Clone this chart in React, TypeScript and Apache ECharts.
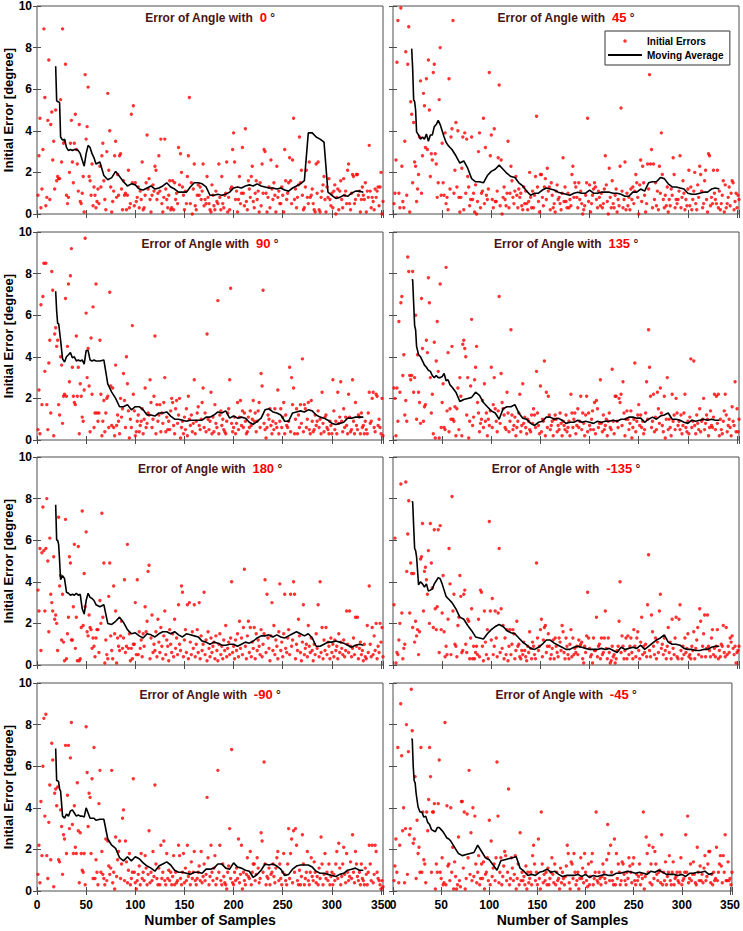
import React, { useEffect, useRef } from "react";
import * as echarts from "echarts";

const FONT = "'Liberation Sans', Arial, Helvetica, sans-serif";

const ANGLES = ["0", "45", "90", "135", "180", "-135", "-90", "-45"];
const X_TICKS = [0, 50, 100, 150, 200, 250, 300, 350];
const Y_TICKS = [0, 2, 4, 6, 8, 10];

// Initial errors, one value per sample (sample 1..352)
const ERR_0 = [
  0.9, 2.8, 4.6, 0.3, 1.2, 3.1, 8.9, 5.6, 0.4, 0.8, 4.5, 7.4, 0.7, 4.3, 4.9, 2.6, 3.5, 1.2, 5.0, 1.6,
  1.8, 1.7, 1.7, 5.5, 2.5, 8.9, 3.4, 3.5, 7.2, 0.9, 0.5, 0.8, 2.0, 3.4, 4.5, 2.5, 1.5, 3.4, 4.8, 3.1,
  2.4, 1.1, 4.3, 0.6, 0.5, 1.0, 1.8, 0.1, 6.7, 3.6, 4.2, 6.1, 1.8, 1.6, 0.9, 2.4, 0.4, 1.3, 0.9, 0.3,
  0.6, 1.2, 0.5, 2.3, 1.3, 2.8, 3.4, 1.6, 0.7, 0.2, 3.0, 5.8, 2.1, 4.0, 1.3, 0.1, 0.6, 1.1, 2.8, 3.5,
  0.8, 1.9, 0.9, 2.8, 2.9, 1.2, 0.2, 1.6, 0.9, 1.0, 0.2, 0.9, 2.1, 0.3, 0.5, 4.8, 1.5, 5.2, 0.4, 1.5,
  0.6, 0.8, 1.3, 0.3, 1.1, 0.7, 2.5, 0.2, 0.3, 0.9, 1.5, 3.8, 1.2, 1.7, 0.7, 0.1, 0.9, 1.4, 1.1, 2.3,
  2.1, 0.7, 1.0, 2.8, 1.1, 3.6, 0.5, 0.1, 0.8, 3.6, 1.2, 0.7, 0.3, 0.9, 1.6, 0.2, 0.3, 1.6, 0.2, 1.5,
  0.7, 1.0, 0.5, 3.2, 1.4, 2.9, 2.0, 1.3, 0.9, 0.2, 1.1, 0.5, 1.8, 2.8, 5.6, 0.5, 1.5, 0.0, 1.2, 2.4,
  0.4, 0.2, 0.9, 1.4, 0.9, 1.3, 0.7, 1.1, 2.4, 0.4, 0.7, 0.5, 1.8, 0.8, 0.5, 0.2, 0.1, 1.4, 0.9, 0.4,
  0.2, 1.1, 0.6, 0.5, 2.4, 0.8, 0.2, 1.8, 0.5, 0.3, 0.9, 1.0, 2.5, 0.1, 0.8, 0.2, 1.2, 1.3, 3.1, 3.9,
  2.5, 0.7, 1.1, 0.1, 0.7, 1.8, 0.5, 1.0, 3.2, 1.0, 0.4, 4.1, 0.6, 0.2, 1.6, 1.2, 0.8, 1.8, 2.3, 0.6,
  0.3, 1.0, 1.6, 0.7, 1.1, 0.1, 1.5, 0.4, 2.4, 1.0, 3.1, 3.0, 1.0, 0.1, 0.8, 1.3, 0.3, 2.6, 1.2, 0.7,
  1.5, 0.9, 0.1, 2.3, 0.8, 1.1, 0.5, 0.5, 1.3, 0.9, 0.1, 3.1, 1.6, 0.7, 1.0, 1.5, 2.7, 1.6, 0.5, 2.6,
  4.6, 0.7, 1.2, 0.3, 0.8, 1.4, 3.7, 1.5, 2.1, 0.9, 0.2, 0.3, 1.3, 2.1, 0.8, 0.5, 2.5, 0.8, 0.9, 1.2,
  0.5, 0.2, 0.1, 2.4, 1.0, 2.5, 0.2, 0.1, 0.8, 1.1, 1.4, 1.8, 0.7, 0.1, 1.3, 0.8, 1.7, 0.7, 0.4, 1.0,
  0.3, 1.1, 1.4, 0.0, 0.8, 1.2, 0.2, 1.1, 1.6, 0.7, 0.3, 1.7, 0.9, 1.1, 0.5, 2.1, 2.4, 0.5, 0.2, 1.0,
  1.9, 1.8, 0.5, 0.7, 1.9, 1.9, 0.9, 1.1, 0.1, 0.7, 1.3, 0.9, 0.7, 1.5, 0.1, 1.1, 0.8, 3.3, 1.1, 0.3,
  0.8, 0.6, 0.2, 1.2, 0.8, 1.1, 1.3, 0.4, 1.3, 2.0, 0.0, 0.6,
];
const ERR_45 = [
  0.5, 1.0, 2.6, 7.3, 9.3, 1.0, 0.3, 9.9, 2.3, 0.6, 0.3, 3.5, 7.8, 0.9, 7.2, 9.0, 0.1, 5.4, 4.8, 1.5,
  4.4, 2.5, 2.3, 0.6, 1.2, 1.9, 3.7, 6.4, 1.0, 2.8, 5.8, 5.2, 3.2, 6.5, 3.1, 7.4, 5.0, 1.8, 2.9, 2.6,
  6.8, 7.2, 2.9, 2.4, 0.8, 1.5, 5.5, 8.0, 0.9, 3.4, 1.5, 0.9, 3.9, 0.5, 0.8, 0.2, 6.5, 1.2, 3.7, 4.1,
  9.3, 1.0, 2.1, 4.4, 1.3, 4.0, 0.8, 0.1, 0.8, 2.2, 3.7, 0.2, 3.9, 1.0, 3.6, 1.8, 1.3, 0.4, 0.7, 3.7,
  0.7, 1.0, 0.1, 1.4, 0.0, 0.6, 3.0, 3.9, 0.3, 1.0, 1.1, 4.6, 0.5, 3.2, 0.9, 0.7, 1.2, 6.8, 2.8, 3.8,
  0.7, 0.3, 4.1, 0.6, 0.6, 1.1, 2.7, 6.2, 0.4, 2.6, 0.0, 0.8, 1.3, 0.7, 0.4, 1.0, 3.5, 0.3, 1.0, 2.3,
  1.6, 0.8, 0.5, 1.1, 1.8, 0.9, 0.3, 1.2, 0.8, 1.0, 0.4, 0.2, 1.3, 0.5, 1.1, 0.5, 0.2, 0.6, 2.0, 0.8,
  0.3, 1.1, 0.3, 0.9, 1.8, 4.7, 1.3, 0.6, 0.1, 1.9, 1.9, 0.8, 0.4, 1.3, 1.7, 0.7, 2.2, 1.1, 1.3, 0.2,
  1.5, 0.9, 0.3, 0.5, 0.1, 1.1, 1.4, 0.7, 0.8, 0.5, 0.2, 1.0, 2.7, 0.6, 1.3, 0.6, 0.3, 1.0, 0.3, 0.7,
  0.4, 1.9, 2.3, 0.8, 1.5, 1.3, 0.8, 0.3, 1.5, 0.7, 1.1, 0.5, 0.0, 0.2, 0.4, 0.9, 1.5, 4.6, 0.6, 1.4,
  0.1, 0.5, 0.9, 1.2, 1.5, 1.3, 0.7, 0.3, 1.1, 0.8, 0.4, 1.0, 0.3, 0.5, 1.2, 2.8, 1.4, 0.6, 0.0, 2.2,
  0.8, 0.3, 1.6, 0.5, 0.3, 0.9, 1.2, 0.1, 0.7, 0.4, 2.3, 5.1, 1.1, 0.3, 0.7, 2.5, 0.2, 1.0, 0.4, 0.8,
  0.2, 1.2, 0.7, 1.3, 0.5, 1.1, 1.9, 1.5, 0.8, 0.0, 1.4, 2.6, 0.6, 2.3, 1.5, 0.9, 0.1, 0.5, 2.4, 1.2,
  6.7, 2.4, 3.1, 0.3, 2.4, 0.7, 1.5, 0.4, 1.1, 0.2, 2.3, 1.0, 3.9, 1.9, 0.7, 0.3, 0.9, 0.4, 1.3, 0.1,
  0.7, 0.4, 1.2, 0.9, 2.7, 1.9, 0.3, 0.7, 0.5, 0.7, 1.1, 2.8, 0.3, 0.8, 1.6, 1.0, 0.2, 0.7, 0.4, 1.2,
  2.1, 0.4, 1.3, 0.2, 0.7, 1.1, 2.0, 0.5, 0.2, 1.4, 0.8, 2.3, 1.9, 1.1, 0.3, 0.5, 1.6, 2.1, 0.7, 0.1,
  2.9, 2.8, 0.4, 0.8, 0.5, 2.1, 1.0, 0.7, 0.5, 2.1, 0.3, 1.1, 0.2, 0.5, 0.9, 1.6, 0.1, 1.4, 0.3, 0.5,
  0.8, 1.3, 0.4, 1.0, 1.6, 1.5, 0.2, 0.6, 1.0, 0.3, 0.9, 0.7,
];
const ERR_90 = [
  0.5, 2.4, 0.3, 6.5, 1.7, 6.9, 8.5, 3.3, 8.5, 1.7, 0.5, 3.7, 4.8, 1.3, 8.1, 7.2, 0.2, 5.1, 5.4, 4.5,
  4.8, 1.7, 1.2, 4.0, 3.6, 0.8, 2.1, 2.2, 6.8, 2.1, 4.5, 7.5, 2.8, 7.9, 9.2, 3.5, 2.1, 1.8, 1.7, 5.0,
  2.1, 3.5, 0.3, 2.7, 2.1, 1.1, 0.9, 2.4, 9.7, 6.1, 3.0, 4.4, 2.6, 0.4, 4.9, 2.2, 6.4, 0.6, 1.3, 7.5,
  1.3, 0.9, 1.3, 4.8, 2.2, 0.2, 0.9, 1.9, 0.4, 1.3, 2.0, 2.1, 0.6, 7.1, 2.6, 0.7, 2.5, 0.6, 0.2, 3.6,
  0.7, 1.2, 0.9, 0.3, 2.0, 1.1, 1.5, 3.2, 1.9, 0.6, 4.0, 2.7, 1.4, 0.1, 1.0, 0.6, 5.5, 2.2, 1.4, 0.2,
  0.4, 0.9, 1.2, 0.4, 0.7, 0.9, 1.5, 0.3, 1.0, 2.5, 0.6, 0.8, 1.3, 1.2, 2.9, 1.8, 0.6, 1.0, 2.1, 5.0,
  0.3, 1.7, 0.9, 1.2, 1.7, 0.4, 1.3, 0.8, 1.8, 3.0, 0.4, 1.1, 0.5, 0.9, 0.5, 1.4, 2.0, 1.8, 0.7, 0.3,
  1.5, 1.9, 0.8, 1.2, 2.0, 0.1, 0.6, 0.9, 0.3, 1.1, 0.5, 1.5, 0.2, 2.1, 1.0, 0.7, 1.2, 0.4, 0.8, 2.9,
  0.3, 0.9, 1.3, 1.6, 0.7, 0.5, 1.0, 1.8, 2.5, 0.6, 1.3, 0.4, 5.1, 1.0, 0.5, 0.9, 2.3, 0.3, 1.1, 0.4,
  1.7, 0.8, 0.6, 6.7, 0.3, 1.2, 1.4, 0.7, 1.0, 0.5, 0.4, 0.3, 0.9, 1.3, 1.5, 2.9, 7.3, 0.8, 0.4, 0.6,
  1.1, 0.3, 0.8, 1.8, 0.5, 1.1, 1.9, 0.7, 1.4, 0.6, 1.3, 0.9, 0.3, 0.4, 1.1, 0.6, 1.4, 0.7, 1.0, 1.9,
  0.9, 1.3, 0.4, 0.9, 1.4, 1.8, 0.6, 3.2, 2.6, 7.2, 0.8, 0.5, 0.1, 0.6, 1.2, 1.0, 1.5, 0.7, 0.3, 0.9,
  0.5, 1.5, 0.8, 0.6, 2.4, 0.3, 0.9, 1.5, 0.6, 1.1, 1.8, 0.3, 1.2, 0.7, 0.6, 0.9, 3.5, 0.4, 3.0, 1.7,
  2.5, 0.3, 1.0, 1.5, 0.3, 1.2, 0.6, 1.7, 0.8, 3.9, 0.4, 1.7, 1.5, 0.6, 1.0, 1.8, 0.5, 0.3, 1.9, 0.9,
  0.4, 0.5, 1.2, 0.7, 0.9, 1.4, 0.6, 1.0, 0.3, 2.3, 0.8, 0.4, 1.1, 1.2, 0.6, 0.5, 0.3, 0.9, 0.7, 0.3,
  2.9, 1.4, 0.5, 0.9, 0.3, 2.3, 0.8, 1.1, 2.8, 0.9, 0.4, 1.5, 0.6, 1.1, 0.7, 0.3, 2.2, 1.1, 0.4, 0.5,
  2.9, 0.9, 0.3, 1.8, 0.7, 0.5, 1.2, 1.1, 0.3, 1.3, 0.6, 0.7, 0.3, 0.9, 0.5, 0.3, 1.3, 2.3, 0.8, 0.9,
  2.0, 2.3, 0.6, 0.4, 2.2, 2.1, 0.7, 1.0, 0.6, 0.3, 2.0, 0.2,
];
const ERR_135 = [
  2.5, 2.0, 0.2, 2.5, 0.9, 5.7, 2.3, 6.6, 6.9, 3.1, 4.1, 1.2, 1.9, 0.9, 8.8, 8.1, 3.1, 2.9, 3.1, 8.1,
  2.3, 3.0, 6.0, 1.0, 4.1, 2.3, 1.8, 0.8, 6.8, 4.4, 0.9, 1.6, 1.7, 4.8, 4.2, 7.8, 6.6, 3.0, 1.3, 2.2,
  0.3, 4.7, 0.1, 3.8, 5.7, 3.3, 0.1, 7.5, 0.6, 1.8, 2.7, 0.6, 0.5, 8.3, 1.4, 4.2, 0.4, 1.5, 1.0, 4.5,
  1.0, 0.9, 1.6, 0.2, 1.5, 2.5, 0.5, 3.0, 2.1, 0.2, 4.6, 4.8, 4.4, 4.0, 1.2, 3.0, 0.1, 0.9, 2.6, 5.8,
  0.7, 1.1, 2.9, 3.5, 4.5, 1.8, 1.3, 0.4, 0.8, 1.0, 1.9, 0.6, 2.7, 0.9, 1.3, 0.2, 1.0, 0.7, 1.4, 3.5,
  0.6, 1.7, 3.0, 1.5, 0.9, 0.4, 1.4, 6.9, 0.8, 3.2, 1.8, 1.5, 1.2, 0.6, 0.5, 2.3, 1.3, 0.4, 0.9, 5.3,
  1.2, 0.5, 0.7, 1.1, 0.2, 0.6, 0.9, 1.3, 2.2, 0.4, 0.7, 2.7, 0.8, 1.1, 0.6, 0.3, 1.0, 0.9, 0.5, 0.4,
  1.2, 0.8, 1.5, 1.2, 0.6, 3.3, 1.3, 0.7, 0.3, 2.6, 0.4, 1.0, 0.9, 3.8, 0.2, 2.3, 0.6, 2.1, 1.2, 0.5,
  0.7, 0.9, 0.2, 1.0, 1.2, 1.0, 0.4, 0.7, 0.5, 1.3, 0.8, 0.2, 0.9, 0.7, 0.5, 1.2, 0.4, 0.6, 0.9, 0.2,
  2.2, 1.3, 0.6, 1.0, 1.3, 0.3, 0.7, 1.5, 0.6, 0.9, 2.1, 0.5, 1.3, 0.8, 0.2, 1.2, 2.1, 0.4, 1.3, 0.7,
  0.5, 1.0, 1.4, 0.5, 1.8, 0.3, 1.9, 1.5, 0.6, 0.8, 2.9, 0.8, 0.4, 1.2, 0.5, 0.7, 1.0, 0.2, 0.9, 1.3,
  0.6, 0.5, 3.4, 0.9, 0.3, 2.1, 2.1, 0.9, 0.6, 2.0, 1.8, 2.2, 0.7, 2.8, 1.3, 0.2, 1.0, 1.4, 1.0, 0.5,
  0.8, 1.4, 0.1, 0.6, 1.0, 3.7, 0.4, 0.9, 1.2, 1.7, 0.7, 1.2, 0.6, 0.9, 0.3, 0.5, 1.3, 2.8, 1.0, 5.3,
  3.5, 2.1, 0.6, 0.9, 2.2, 0.4, 1.1, 0.5, 2.3, 1.5, 0.8, 2.5, 1.3, 0.7, 0.4, 2.1, 0.1, 1.0, 3.0, 0.5,
  1.0, 0.6, 0.2, 2.2, 0.9, 1.2, 0.5, 2.0, 1.3, 0.7, 0.9, 0.5, 1.2, 0.3, 0.7, 1.3, 2.2, 0.6, 0.4, 0.9,
  0.3, 1.1, 3.9, 0.6, 0.9, 3.8, 0.7, 0.3, 1.2, 0.8, 0.5, 1.5, 0.4, 0.9, 1.0, 2.0, 0.5, 0.8, 1.2, 1.0,
  0.2, 0.6, 1.4, 0.7, 0.6, 1.1, 2.2, 0.5, 2.1, 0.8, 2.2, 0.2, 1.0, 0.5, 0.3, 0.9, 1.4, 2.2, 1.2, 0.4,
  0.7, 1.0, 0.6, 0.2, 1.6, 0.9, 0.7, 2.8, 0.4, 1.5, 0.4, 1.0,
];
const ERR_180 = [
  3.6, 2.6, 5.6, 0.7, 5.4, 7.6, 5.5, 2.6, 5.6, 8.0, 5.0, 1.6, 6.1, 3.4, 3.0, 2.6, 5.2, 2.2, 2.4, 2.0,
  0.7, 7.1, 3.8, 4.3, 1.2, 3.4, 1.1, 0.2, 7.0, 0.3, 1.5, 2.3, 5.2, 4.9, 1.2, 1.2, 2.8, 5.8, 0.8, 2.3,
  0.2, 5.7, 0.2, 0.3, 1.8, 7.4, 1.9, 4.4, 2.8, 6.4, 1.6, 1.4, 2.4, 1.8, 1.7, 0.8, 1.3, 0.9, 0.4, 1.3,
  1.7, 1.7, 0.6, 3.1, 2.0, 7.3, 2.3, 4.9, 0.1, 1.2, 0.5, 0.3, 3.3, 4.9, 1.4, 0.7, 0.3, 3.8, 1.5, 2.6,
  0.1, 1.3, 0.9, 0.7, 1.4, 2.1, 0.8, 1.3, 4.1, 0.6, 0.9, 5.8, 0.8, 1.5, 0.2, 0.8, 0.3, 1.0, 1.0, 3.0,
  0.5, 4.1, 0.5, 1.6, 0.8, 1.2, 0.4, 1.5, 0.9, 2.8, 1.6, 2.1, 4.5, 4.8, 0.3, 1.3, 2.4, 0.6, 1.0, 0.7,
  1.6, 0.4, 2.2, 1.1, 0.6, 1.8, 0.9, 0.3, 1.4, 2.6, 0.5, 1.2, 0.9, 0.2, 1.7, 1.0, 0.6, 1.5, 0.4, 2.2,
  0.8, 1.3, 0.5, 2.9, 1.0, 0.7, 3.8, 3.5, 0.4, 1.2, 1.7, 0.6, 2.9, 0.3, 3.0, 1.1, 0.5, 1.6, 0.8, 2.9,
  0.4, 1.0, 1.7, 0.6, 3.0, 0.3, 1.4, 0.7, 1.0, 3.5, 0.5, 1.2, 0.2, 1.6, 0.8, 0.4, 1.3, 0.6, 0.9, 1.1,
  0.3, 1.4, 0.7, 0.2, 1.0, 1.5, 0.5, 0.9, 0.3, 1.2, 0.7, 1.9, 0.4, 0.8, 1.1, 0.5, 1.3, 4.0, 0.6, 0.9,
  0.3, 1.2, 0.7, 1.5, 0.4, 2.1, 0.8, 1.3, 0.5, 1.8, 4.6, 0.9, 0.3, 1.4, 2.1, 0.6, 1.8, 0.4, 1.1, 0.8,
  1.8, 0.3, 1.5, 0.7, 1.2, 0.9, 0.5, 1.7, 0.4, 1.0, 1.5, 4.1, 0.6, 3.4, 1.3, 0.8, 0.2, 1.4, 3.0, 0.7,
  1.9, 0.5, 1.2, 0.9, 0.3, 1.6, 3.9, 0.7, 1.1, 0.4, 1.5, 3.4, 0.8, 0.6, 1.3, 1.7, 0.5, 3.4, 0.9, 1.2,
  4.0, 3.4, 0.3, 1.0, 0.7, 2.2, 1.4, 0.6, 0.2, 1.1, 2.9, 0.5, 0.8, 1.0, 0.4, 1.9, 0.9, 0.6, 1.3, 0.7,
  0.2, 1.0, 0.5, 1.5, 0.8, 2.9, 0.4, 4.0, 0.6, 1.8, 0.3, 1.2, 0.7, 1.8, 0.5, 1.1, 0.9, 0.3, 1.3, 0.6,
  1.0, 0.4, 1.2, 0.7, 0.9, 0.3, 1.5, 0.6, 1.1, 0.8, 0.5, 1.2, 0.4, 0.7, 2.6, 1.0, 0.6, 2.6, 0.9, 0.4,
  0.8, 1.3, 0.5, 2.3, 0.9, 2.3, 0.3, 0.8, 1.1, 0.5, 0.7, 0.2, 1.0, 0.4, 0.3, 1.9, 0.6, 3.8, 1.0, 0.4,
  1.8, 0.5, 1.4, 0.7, 2.0, 0.3, 0.9, 0.6, 2.0, 1.1, 1.8, 0.4,
];
const ERR_M135 = [
  2.9, 6.1, 0.1, 0.6, 0.5, 1.2, 2.0, 8.7, 2.5, 0.3, 0.8, 1.0, 8.8, 4.5, 6.3, 7.9, 2.5, 4.9, 4.4, 1.8,
  4.4, 1.1, 2.1, 1.4, 1.7, 0.5, 1.6, 5.1, 5.2, 6.8, 2.6, 4.5, 4.7, 4.1, 3.4, 5.5, 2.0, 6.8, 4.9, 3.7,
  1.8, 6.5, 2.7, 1.7, 2.8, 6.5, 0.6, 6.7, 1.7, 2.5, 4.3, 1.6, 0.4, 0.9, 0.5, 2.2, 5.6, 3.9, 0.5, 8.1,
  2.6, 3.4, 1.0, 0.9, 0.4, 1.9, 2.3, 4.3, 3.3, 0.6, 0.7, 3.4, 3.6, 1.0, 0.6, 2.2, 2.1, 0.3, 1.3, 2.7,
  0.3, 0.9, 0.3, 0.6, 0.9, 0.5, 2.2, 0.4, 3.6, 3.5, 0.9, 0.2, 2.6, 1.1, 0.5, 1.7, 0.3, 6.9, 2.6, 1.2,
  3.2, 0.5, 0.9, 2.6, 1.3, 0.4, 2.5, 5.6, 0.6, 2.7, 0.8, 1.9, 0.3, 1.3, 0.5, 1.7, 0.2, 0.9, 1.7, 0.5,
  1.0, 1.7, 1.5, 0.3, 0.7, 2.1, 0.9, 1.0, 0.4, 0.3, 0.7, 0.5, 1.1, 0.7, 0.4, 0.2, 0.9, 0.6, 1.6, 0.8,
  0.3, 1.1, 0.9, 0.5, 0.3, 4.9, 1.3, 0.7, 0.9, 1.7, 2.2, 0.4, 1.2, 1.8, 1.9, 0.6, 0.9, 1.5, 0.9, 0.3,
  0.5, 0.8, 1.2, 0.3, 1.3, 0.9, 0.6, 0.4, 1.3, 1.1, 0.7, 1.9, 1.6, 0.6, 0.3, 1.3, 0.9, 0.5, 0.3, 1.0,
  1.7, 0.4, 1.3, 0.5, 0.8, 0.6, 0.9, 0.5, 1.2, 0.9, 1.0, 1.1, 0.3, 0.1, 0.9, 0.6, 1.4, 3.5, 1.3, 0.8,
  0.4, 0.5, 0.1, 1.3, 0.7, 0.7, 2.3, 0.4, 0.9, 1.0, 0.3, 1.3, 0.5, 0.6, 1.3, 2.6, 0.8, 0.3, 1.3, 0.6,
  0.1, 0.2, 0.9, 0.4, 0.5, 0.1, 0.3, 0.7, 0.9, 2.1, 4.0, 0.6, 1.4, 0.9, 0.3, 0.7, 1.3, 0.3, 1.4, 0.5,
  0.9, 1.3, 0.6, 0.3, 1.7, 0.9, 0.4, 1.3, 1.6, 0.7, 0.3, 1.1, 2.3, 0.5, 0.9, 0.6, 1.0, 0.4, 2.9, 5.3,
  0.7, 0.4, 2.4, 1.6, 0.9, 0.5, 1.3, 0.3, 1.1, 0.6, 2.6, 3.4, 0.8, 1.0, 0.5, 1.3, 0.7, 0.3, 0.9, 1.8,
  0.6, 1.1, 0.3, 2.2, 0.8, 0.5, 1.3, 2.3, 0.4, 0.3, 2.2, 2.9, 0.7, 0.3, 0.9, 0.5, 1.3, 0.6, 0.8, 1.5,
  0.4, 0.5, 0.3, 0.9, 0.7, 1.6, 0.3, 0.8, 1.2, 1.8, 0.5, 2.7, 2.1, 0.4, 0.9, 1.5, 2.4, 0.4, 0.8, 2.4,
  0.9, 0.7, 0.4, 1.3, 1.7, 0.5, 0.8, 0.4, 0.9, 1.7, 0.3, 0.7, 0.4, 1.0, 0.9, 1.9, 0.6, 0.4, 1.8, 0.5,
  0.9, 0.6, 1.3, 1.1, 1.4, 0.8, 0.5, 0.9, 0.1, 0.6, 0.7, 0.9,
];
const ERR_M90 = [
  0.8, 2.2, 0.4, 4.3, 1.7, 6.0, 8.3, 3.6, 8.5, 1.7, 0.6, 3.3, 5.1, 1.5, 7.1, 6.3, 0.2, 4.7, 4.9, 4.1,
  5.0, 1.5, 1.4, 3.9, 3.1, 0.8, 2.7, 2.5, 7.0, 1.8, 4.6, 7.0, 3.0, 6.4, 8.1, 3.2, 1.8, 4.1, 2.1, 1.8,
  5.2, 2.9, 0.4, 2.8, 1.8, 1.0, 0.9, 1.8, 0.3, 7.9, 5.7, 3.1, 4.7, 4.5, 1.8, 5.4, 0.6, 6.9, 0.6, 1.5,
  0.9, 0.3, 4.2, 5.8, 0.9, 1.9, 0.8, 0.6, 0.3, 2.5, 0.5, 2.4, 1.2, 0.8, 1.1, 5.8, 0.4, 0.9, 0.1, 2.6,
  0.7, 1.5, 1.9, 2.4, 0.6, 1.3, 3.5, 3.9, 0.5, 2.4, 1.4, 0.4, 1.0, 1.8, 0.3, 0.6, 0.9, 5.4, 0.9, 0.4,
  0.1, 0.5, 0.8, 1.2, 0.3, 1.8, 0.6, 0.9, 0.5, 1.7, 1.1, 0.3, 0.8, 2.9, 0.4, 0.9, 0.5, 1.9, 0.7, 5.1,
  1.3, 0.6, 0.3, 1.1, 0.3, 2.2, 0.6, 0.9, 2.4, 0.5, 0.3, 1.8, 0.6, 1.0, 0.5, 0.9, 0.3, 0.7, 1.7, 0.3,
  0.9, 0.4, 0.5, 2.2, 1.7, 0.6, 0.3, 0.9, 1.8, 0.4, 1.1, 0.5, 2.2, 0.7, 0.9, 0.3, 1.4, 0.6, 0.9, 1.9,
  0.5, 0.3, 0.6, 0.9, 1.2, 0.5, 1.9, 0.4, 0.7, 1.3, 0.5, 0.8, 4.5, 1.6, 0.3, 0.7, 2.2, 0.9, 0.5, 1.1,
  1.7, 0.3, 0.6, 5.8, 0.9, 2.2, 0.5, 0.3, 1.3, 0.7, 0.4, 0.3, 0.1, 0.9, 1.2, 3.0, 0.6, 6.8, 0.4, 0.3,
  0.9, 0.5, 1.1, 0.6, 2.5, 0.4, 0.8, 2.2, 0.1, 0.9, 0.5, 0.3, 0.8, 1.6, 0.7, 0.6, 1.9, 0.3, 0.9, 1.3,
  1.3, 0.5, 0.8, 1.6, 1.1, 0.4, 0.6, 2.8, 2.4, 0.9, 6.2, 1.3, 0.3, 0.7, 0.6, 1.1, 0.3, 0.8, 0.9, 1.3,
  0.7, 0.4, 1.1, 1.6, 1.9, 0.5, 1.3, 0.6, 0.3, 0.9, 1.8, 0.8, 0.5, 0.3, 1.3, 3.0, 0.6, 1.8, 2.5, 0.4,
  2.9, 0.9, 3.0, 2.2, 0.5, 0.3, 1.0, 0.3, 0.7, 2.7, 1.3, 0.3, 0.6, 0.9, 1.9, 0.5, 0.3, 0.9, 1.6, 0.7,
  0.5, 1.4, 0.9, 0.4, 0.7, 0.3, 1.1, 0.6, 2.6, 1.3, 0.3, 0.8, 1.8, 0.6, 0.9, 0.5, 1.3, 0.3, 0.7, 0.9,
  0.3, 0.8, 0.5, 1.3, 1.9, 0.6, 2.3, 1.1, 0.3, 0.7, 1.3, 2.1, 0.8, 0.4, 1.8, 0.9, 0.5, 0.7, 1.4, 0.6,
  2.7, 0.9, 0.4, 1.9, 1.3, 0.7, 0.5, 0.9, 0.3, 1.3, 0.6, 0.5, 0.3, 1.1, 0.8, 0.3, 0.9, 2.2, 1.3, 0.5,
  2.2, 0.4, 0.8, 2.2, 1.9, 0.9, 0.6, 0.5, 0.3, 0.1, 0.5, 0.2,
];
const ERR_M45 = [
  0.5, 1.2, 2.5, 0.9, 6.9, 0.4, 2.2, 9.0, 6.5, 2.9, 4.0, 0.4, 3.0, 8.0, 0.8, 6.7, 2.7, 3.0, 9.7, 7.7,
  2.3, 2.5, 5.5, 0.6, 3.4, 1.8, 2.1, 0.9, 6.9, 0.9, 3.8, 1.5, 1.3, 0.4, 3.8, 2.9, 4.4, 6.9, 5.5, 0.9,
  3.8, 3.8, 4.2, 0.1, 1.3, 0.9, 4.2, 6.3, 0.9, 0.6, 1.6, 0.3, 0.4, 8.1, 0.3, 4.1, 1.2, 1.3, 0.5, 4.0,
  0.9, 2.1, 0.1, 1.4, 0.7, 0.1, 0.3, 2.6, 0.5, 0.2, 4.3, 4.3, 1.1, 3.8, 0.1, 0.6, 3.7, 1.6, 5.8, 0.8,
  2.8, 0.5, 4.0, 0.7, 3.6, 1.3, 0.4, 0.9, 1.7, 0.3, 0.6, 1.3, 0.6, 1.4, 0.1, 0.8, 0.9, 1.6, 0.5, 3.4,
  0.3, 2.4, 0.7, 1.1, 1.3, 0.5, 1.6, 6.2, 3.6, 0.4, 0.9, 1.6, 0.3, 0.7, 1.2, 1.9, 1.7, 0.5, 0.9, 4.9,
  0.3, 0.6, 1.6, 1.1, 0.5, 0.8, 1.7, 0.1, 0.6, 1.3, 0.3, 2.8, 0.5, 0.9, 0.5, 0.7, 0.3, 1.2, 0.1, 0.9,
  0.4, 0.6, 0.9, 0.3, 1.7, 2.2, 1.3, 0.5, 0.9, 0.3, 2.5, 0.6, 0.1, 3.8, 1.3, 0.4, 0.8, 0.5, 0.9, 0.3,
  1.1, 0.3, 0.6, 0.9, 1.6, 0.8, 0.4, 1.3, 0.3, 0.9, 0.5, 0.6, 0.1, 1.1, 0.4, 0.9, 0.6, 0.3, 0.7, 1.2,
  2.2, 1.8, 0.4, 0.1, 1.4, 1.3, 0.6, 1.8, 0.9, 0.3, 0.5, 0.9, 0.1, 0.6, 1.6, 0.6, 1.1, 0.4, 1.8, 0.9,
  0.5, 0.2, 1.3, 0.3, 0.7, 1.4, 1.8, 0.3, 0.6, 0.9, 3.8, 0.5, 0.4, 0.9, 0.6, 0.3, 0.7, 1.3, 0.9, 0.6,
  0.4, 1.5, 3.2, 1.8, 0.5, 2.2, 0.9, 0.5, 0.3, 2.5, 0.3, 1.8, 0.6, 1.3, 0.9, 0.3, 0.5, 1.4, 1.3, 0.8,
  0.5, 0.3, 0.9, 0.6, 1.6, 1.2, 0.9, 0.4, 1.3, 1.6, 0.5, 0.3, 0.8, 0.5, 0.7, 1.3, 0.3, 0.8, 0.6, 3.8,
  0.1, 0.7, 2.6, 1.8, 0.9, 2.2, 0.4, 1.3, 0.3, 2.1, 0.6, 1.9, 1.3, 0.8, 0.5, 0.9, 1.0, 0.4, 2.7, 0.3,
  0.9, 0.5, 1.4, 0.3, 0.7, 0.9, 1.7, 0.5, 0.3, 0.9, 1.4, 0.3, 0.6, 0.7, 0.9, 0.5, 0.4, 0.9, 1.6, 0.3,
  0.5, 0.6, 0.9, 2.7, 0.9, 3.6, 0.4, 0.6, 1.3, 0.5, 0.8, 1.4, 0.8, 0.4, 0.3, 2.1, 0.9, 0.5, 1.2, 0.5,
  0.8, 0.4, 1.1, 1.7, 0.5, 0.7, 1.3, 1.9, 1.9, 0.4, 0.8, 0.3, 0.9, 0.5, 0.6, 2.1, 0.5, 0.9, 1.3, 1.7,
  1.2, 0.4, 1.7, 0.9, 2.7, 0.5, 0.5, 1.4, 0.5, 0.6, 0.3, 0.9,
];

// Moving average: sample positions and values per panel
const MA_X = [
  19, 20, 21, 22, 23, 24, 26, 28, 30, 32, 34, 36, 38, 40, 42, 44, 46, 48, 50, 52, 54, 56, 58, 60,
  64, 68, 72, 76, 80, 84, 88, 92, 96, 100, 104, 108, 112, 116, 120, 124, 128, 132, 136, 140,
  144, 148, 152, 156, 160, 164, 168, 172, 176, 180, 184, 188, 192, 196, 200, 204, 208, 212, 216, 220,
  224, 228, 232, 236, 240, 244, 248, 252, 256, 260, 264, 268, 272, 276, 280, 284, 288, 292, 296, 300,
  304, 308, 312, 316, 320, 324, 328, 332,
];
const MA_0 = [
  7.1, 5.45, 5.4, 5.4, 5.35, 3.7, 3.55, 3.6, 3.2, 3.05, 3.1, 3.05, 3.1, 3.1, 3.05, 2.9, 2.6, 2.3, 2.9, 3.3, 3.2, 2.9, 2.7, 2.4,
  2.5, 1.85, 1.65, 1.75, 2.05, 1.8, 1.55, 1.35, 1.45, 1.4, 1.2, 1.15, 1.25, 1.35, 1.2, 1.25, 1.35, 1.5, 1.3, 1.2,
  1.05, 1.05, 1.05, 1.3, 1.5, 1.5, 1.45, 1.3, 0.9, 0.9, 0.95, 0.9, 0.95, 1.05, 1.25, 1.3, 1.25, 1.35, 1.4, 1.35,
  1.45, 1.35, 1.3, 1.25, 1.25, 1.2, 1.25, 1.15, 1.1, 1.25, 1.35, 1.45, 1.6, 3.9, 3.9, 3.7, 3.6, 3.45, 1.05, 0.9,
  0.75, 0.8, 0.9, 0.85, 1.0, 1.1, 1.1, 1.05,
];
const MA_45 = [
  7.95, 7.0, 5.5, 5.4, 5.0, 3.95, 3.8, 3.6, 3.7, 3.6, 3.85, 3.5, 3.8, 3.8, 4.2, 4.3, 4.5, 4.3, 4.0, 3.7, 3.45, 3.3, 3.2, 3.1,
  2.8, 2.45, 2.55, 2.2, 1.7, 1.55, 1.55, 1.5, 1.85, 2.05, 2.15, 2.35, 2.15, 1.95, 1.8, 1.75, 1.5, 1.35, 1.1, 0.9,
  1.0, 1.0, 1.15, 1.25, 1.2, 1.15, 1.05, 1.0, 0.95, 0.9, 1.0, 1.05, 1.0, 1.0, 1.15, 1.0, 1.0, 1.05, 1.05, 1.05,
  1.0, 1.0, 0.95, 0.85, 0.85, 1.05, 1.05, 1.2, 1.1, 1.5, 1.55, 1.55, 1.75, 1.7, 1.45, 1.3, 1.3, 1.25, 1.2, 1.0,
  0.95, 0.95, 1.0, 1.05, 1.05, 1.2, 1.25, 1.2,
];
const MA_90 = [
  7.15, 6.2, 5.6, 5.6, 5.2, 4.8, 3.9, 3.75, 4.0, 4.1, 4.2, 3.95, 4.0, 3.8, 3.85, 3.8, 3.85, 3.65, 4.3, 4.3, 3.85, 3.8, 3.85, 3.8,
  3.8, 3.85, 2.7, 2.3, 2.0, 1.6, 1.6, 1.7, 1.45, 1.6, 1.6, 1.45, 1.2, 1.2, 1.15, 1.3, 1.3, 1.35, 1.15, 1.0,
  1.0, 0.95, 0.9, 0.95, 0.95, 0.95, 0.95, 1.1, 1.1, 1.2, 1.35, 1.3, 1.4, 1.05, 1.15, 1.05, 1.1, 1.05, 0.85, 0.75,
  0.9, 1.05, 1.45, 1.5, 1.35, 1.3, 1.2, 0.9, 0.9, 1.3, 1.35, 1.4, 1.35, 1.45, 1.4, 1.2, 1.1, 1.05, 0.95, 0.8,
  0.75, 0.8, 0.85, 1.05, 1.05, 1.1, 1.1, 1.1,
];
const MA_135 = [
  7.7, 7.7, 6.6, 5.5, 5.3, 4.5, 4.1, 4.0, 3.8, 3.6, 3.5, 3.35, 3.3, 3.1, 3.0, 3.1, 3.0, 3.0, 3.05, 3.2, 2.85, 2.9, 2.65, 2.55,
  2.3, 1.85, 1.95, 2.0, 2.05, 2.3, 2.15, 1.8, 1.6, 1.4, 1.3, 1.0, 1.5, 1.6, 1.6, 1.7, 1.3, 1.05, 1.0, 0.8,
  0.7, 0.85, 0.9, 1.1, 1.1, 1.0, 1.05, 0.95, 0.8, 0.85, 0.85, 0.95, 0.85, 0.9, 0.85, 0.8, 0.9, 0.85, 0.9, 0.9,
  0.95, 0.9, 1.0, 1.0, 1.1, 1.1, 1.05, 1.05, 0.85, 1.0, 1.1, 1.0, 1.15, 1.2, 1.3, 1.0, 1.0, 0.95, 0.85, 0.8,
  0.95, 0.9, 0.95, 1.0, 0.95, 1.0, 0.95, 0.95,
];
const MA_180 = [
  7.7, 6.0, 6.0, 5.8, 5.0, 4.1, 4.3, 4.15, 3.5, 3.45, 3.35, 3.4, 3.35, 3.45, 3.35, 3.4, 2.7, 2.45, 3.1, 3.45, 3.25, 3.2, 3.1, 2.9,
  2.8, 2.9, 2.0, 1.95, 2.1, 2.3, 2.05, 1.7, 1.5, 1.55, 1.4, 1.3, 1.5, 1.45, 1.35, 1.5, 1.6, 1.6, 1.5, 1.6,
  1.45, 1.35, 1.5, 1.45, 1.4, 1.35, 1.15, 1.1, 1.0, 1.1, 1.05, 0.95, 0.95, 1.0, 1.0, 0.9, 1.0, 1.1, 1.05, 1.15,
  1.3, 1.4, 1.4, 1.45, 1.35, 1.45, 1.35, 1.3, 1.4, 1.5, 1.6, 1.5, 1.4, 1.5, 1.3, 0.9, 0.9, 1.0, 1.1, 1.1,
  1.15, 1.1, 1.05, 0.95, 0.85, 0.95, 1.0, 0.95,
];
const MA_M135 = [
  7.85, 7.85, 6.7, 5.6, 5.5, 5.2, 3.85, 4.0, 3.9, 3.75, 3.9, 3.55, 3.6, 3.65, 3.9, 4.05, 4.2, 4.15, 3.9, 3.6, 3.3, 3.2, 3.1, 3.0,
  2.7, 2.3, 2.2, 1.9, 1.65, 1.35, 1.3, 1.25, 1.5, 1.7, 1.85, 1.95, 1.85, 1.65, 1.55, 1.5, 1.3, 1.1, 0.95, 0.8,
  0.75, 0.85, 1.0, 1.2, 1.2, 1.05, 0.95, 0.85, 0.75, 0.75, 0.85, 0.9, 0.85, 0.8, 0.75, 0.75, 0.75, 0.8, 0.75, 0.8,
  0.7, 0.6, 0.85, 0.75, 0.8, 0.85, 0.8, 0.95, 0.75, 0.9, 1.05, 1.2, 1.3, 1.45, 1.1, 1.0, 1.0, 0.95, 0.8, 0.75,
  0.75, 0.7, 0.7, 0.75, 0.75, 0.85, 0.9, 0.9,
];
const MA_M90 = [
  6.85, 5.3, 5.3, 5.25, 4.9, 4.8, 3.6, 3.5, 3.7, 3.6, 3.85, 3.9, 3.75, 3.6, 3.65, 3.6, 3.6, 3.55, 4.0, 3.75, 3.5, 3.5, 3.5, 3.4,
  3.45, 3.45, 2.5, 2.2, 2.05, 1.6, 1.45, 1.65, 1.45, 1.65, 1.55, 1.35, 1.2, 1.1, 0.95, 1.2, 1.3, 1.4, 1.25, 1.0,
  0.9, 0.9, 0.85, 0.8, 0.9, 0.9, 0.85, 1.05, 1.05, 1.1, 1.3, 1.3, 1.1, 1.05, 1.35, 1.15, 1.1, 1.0, 0.95, 0.65,
  0.8, 1.0, 1.3, 1.25, 1.3, 1.2, 1.05, 0.75, 0.8, 1.05, 1.2, 1.25, 1.25, 1.25, 1.15, 0.95, 0.85, 0.85, 0.8, 0.75,
  0.7, 0.8, 0.85, 1.0, 1.05, 1.1, 1.0, 1.0,
];
const MA_M45 = [
  7.3, 7.3, 6.0, 5.3, 5.2, 4.7, 4.05, 3.8, 3.8, 3.55, 3.6, 3.3, 3.2, 2.95, 2.9, 2.85, 3.05, 3.05, 2.95, 2.85, 2.7, 2.55, 2.5, 2.4,
  2.1, 1.8, 1.7, 1.75, 1.8, 1.85, 2.2, 1.9, 1.6, 1.5, 1.25, 1.0, 1.45, 1.5, 1.55, 1.6, 1.65, 1.1, 0.95, 0.75,
  0.8, 0.75, 0.9, 0.95, 1.05, 0.9, 0.95, 0.8, 0.7, 0.75, 0.75, 0.75, 0.8, 0.7, 0.8, 0.65, 0.75, 0.7, 0.75, 0.8,
  0.75, 0.75, 0.85, 0.85, 0.9, 0.95, 0.9, 0.85, 0.9, 0.85, 0.8, 0.95, 0.9, 1.0, 0.9, 0.8, 0.8, 0.8, 0.75, 0.8,
  0.7, 0.85, 0.85, 0.9, 0.9, 0.95, 0.8, 0.85,
];

const ERRORS = [ERR_0, ERR_45, ERR_90, ERR_135, ERR_180, ERR_M135, ERR_M90, ERR_M45];
const AVERAGES = [MA_0, MA_45, MA_90, MA_135, MA_180, MA_M135, MA_M90, MA_M45];

const GRID_LEFT = [37, 393];
const GRID_TOP = [6, 232, 457, 683];
const GRID_W = 346;
const GRID_H = 208;
const FRAME = "#4d4d4d";

function buildOption() {
  const grid: any[] = [];
  const xAxis: any[] = [];
  const yAxis: any[] = [];
  const series: any[] = [];
  const title: any[] = [];
  const mirrorX: any[] = [];
  const mirrorY: any[] = [];
  const n = ANGLES.length;
  for (let i = 0; i < n; i++) {
    const col = i % 2;
    const row = Math.floor(i / 2);
    const left = GRID_LEFT[col];
    const top = GRID_TOP[row];
    grid.push({ left, top, width: GRID_W, height: GRID_H, show: true, borderColor: FRAME, borderWidth: 1, backgroundColor: "#fff" });
    const tick = { show: true, inside: true, length: 4, lineStyle: { color: FRAME, width: 1 } };
    xAxis.push({
      type: "value", gridIndex: i, min: 0, max: 352, interval: 50, position: "bottom",
      axisLine: { show: false }, axisTick: tick, splitLine: { show: false },
      axisLabel: {
        show: row === 3, margin: 8, fontSize: 12, fontWeight: "bold", color: "#000", fontFamily: FONT,
        formatter: (v: number) => (X_TICKS.indexOf(v) >= 0 ? String(v) : ""),
      },
      name: row === 3 ? "Number of Samples" : "", nameLocation: "middle", nameGap: 22,
      nameTextStyle: { fontSize: 14, fontWeight: "bold", color: "#000", fontFamily: FONT },
    });
    mirrorX.push({
      type: "value", gridIndex: i, min: 0, max: 352, interval: 50, position: "top",
      axisLine: { show: false }, axisTick: tick, splitLine: { show: false }, axisLabel: { show: false },
    });
    yAxis.push({
      type: "value", gridIndex: i, min: 0, max: 10, interval: 2, position: "left",
      axisLine: { show: false }, axisTick: tick, splitLine: { show: false },
      axisLabel: {
        show: col === 0, margin: 5, fontSize: 12, fontWeight: "bold", color: "#000", fontFamily: FONT,
        formatter: (v: number) => (Y_TICKS.indexOf(v) >= 0 ? String(v) : ""),
      },
      name: col === 0 ? "Initial Error [degree]" : "", nameLocation: "middle", nameRotate: 90, nameGap: 22,
      nameTextStyle: { fontSize: 13, fontWeight: "bold", color: "#000", fontFamily: FONT },
    });
    mirrorY.push({
      type: "value", gridIndex: i, min: 0, max: 10, interval: 2, position: "right",
      axisLine: { show: false }, axisTick: tick, splitLine: { show: false }, axisLabel: { show: false },
    });
    title.push({
      text: "{a|Error of Angle with}  {b|" + ANGLES[i] + "} {a|°}",
      left: left + GRID_W / 2, top: top + 5, textAlign: "center", padding: 0,
      textStyle: {
        fontSize: 12, fontWeight: "bold", color: "#4a1414", fontFamily: FONT,
        rich: {
          a: { fontSize: 12, fontWeight: "bold", color: "#4a1414", fontFamily: FONT },
          b: { fontSize: 13, fontWeight: "bold", color: "#ff0000", fontFamily: FONT },
        },
      },
    });
    series.push({
      name: "Initial Errors", type: "scatter", xAxisIndex: i, yAxisIndex: i,
      symbol: "circle", symbolSize: 3.4, itemStyle: { color: "#ff0000" },
      data: ERRORS[i].map((v, k) => [k + 1, v]),
    });
    series.push({
      name: "Moving Average", type: "line", xAxisIndex: i, yAxisIndex: i,
      symbol: "none", showSymbol: false, lineStyle: { color: "#000", width: 1.6 }, itemStyle: { color: "#000" },
      data: MA_X.map((x, k) => [x, AVERAGES[i][k]]),
      z: 3,
    });
  }
  return {
    animation: false,
    backgroundColor: "#fff",
    title,
    grid,
    xAxis: xAxis.concat(mirrorX),
    yAxis: yAxis.concat(mirrorY),
    legend: {
      data: [
        { name: "Initial Errors", icon: "circle" },
        { name: "Moving Average", icon: "path://M0,0H34V1.8H0Z" },
      ],
      orient: "vertical", left: 605, top: 31,
      itemWidth: 34, itemHeight: 3.5, itemGap: 4,
      padding: [5, 6, 5, 3],
      borderColor: "#333", borderWidth: 1, backgroundColor: "#fff",
      textStyle: { fontSize: 10, fontWeight: "bold", color: "#000", fontFamily: FONT },
    },
    series,
  };
}

export default function App() {
  const ref = useRef<HTMLDivElement>(null);
  useEffect(() => {
    if (!ref.current) return;
    const chart = echarts.init(ref.current, undefined, { renderer: "svg" });
    chart.setOption(buildOption() as any);
    return () => chart.dispose();
  }, []);
  return <div ref={ref} style={{ position: "absolute", left: 0, top: 0, width: 743, height: 931 }} />;
}
